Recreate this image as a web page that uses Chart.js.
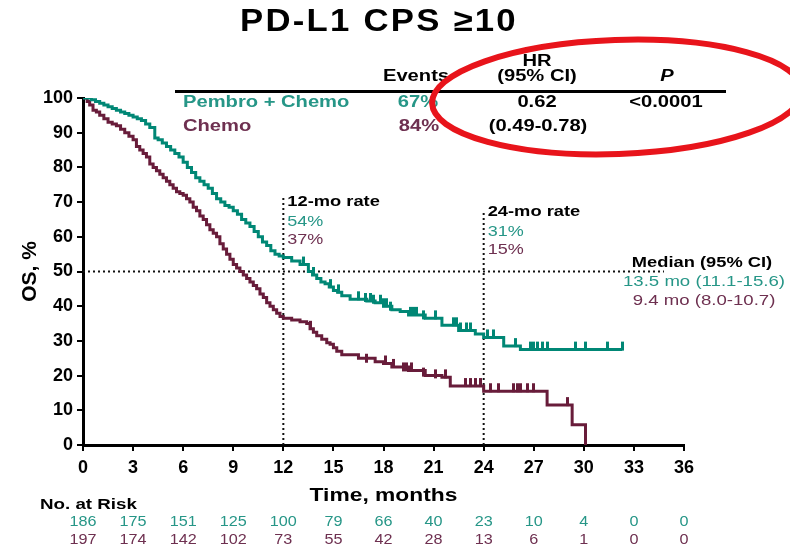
<!DOCTYPE html>
<html>
<head>
<meta charset="utf-8">
<script src="https://cdn.jsdelivr.net/npm/chart.js@4.4.0/dist/chart.umd.min.js"></script>
<style>
  html, body { margin: 0; padding: 0; background: #fff; }
  #wrap { width: 790px; height: 549px; position: relative; }
</style>
</head>
<body>
<div id="wrap"><canvas id="osChart"></canvas></div>
<script>
    // Kaplan-Meier steps (months, OS %)
    const pembroTime = [0, 0.25, 0.5, 0.75, 1.0, 1.25, 1.5, 1.75, 2.0, 2.25, 2.5, 2.75, 3.0, 3.25, 3.5, 3.75, 4.0, 4.3, 4.5, 4.75, 5.0, 5.25, 5.5, 5.75, 6.0, 6.25, 6.5, 6.75, 7.0, 7.25, 7.5, 7.75, 8.0, 8.25, 8.5, 8.75, 9.0, 9.25, 9.5, 9.75, 10.0, 10.25, 10.5, 10.75, 11.0, 11.25, 11.5, 11.75, 12.0, 12.5, 13.0, 13.5, 13.75, 14.0, 14.25, 14.5, 14.75, 15.0, 15.25, 15.5, 16.0, 17.0, 17.5, 18.0, 18.5, 19.0, 19.5, 20.5, 21.5, 22.5, 23.5, 24.0, 25.2, 26.2, 32.3];
    const pembroOS = [100, 100, 99.5, 99, 98.5, 98, 97.5, 97, 96.5, 96, 95.5, 95, 94.5, 94, 93.5, 92.5, 91.5, 88.5, 88, 87, 86, 85, 84, 83, 81.5, 80, 78.5, 77, 76, 75, 74, 72.5, 71, 70, 69, 68.5, 67.5, 66.5, 65, 64, 63, 61.5, 60, 58.5, 57.5, 56, 55, 54.5, 54, 53, 52, 50, 49, 48, 47, 46.5, 45.5, 44.5, 44, 43, 42, 41.5, 41, 40, 39, 38.5, 37.5, 36.5, 34.5, 33, 32, 31, 28.5, 27.5, 27.5];

    const chemoTime = [0, 0.25, 0.4, 0.6, 0.8, 1.0, 1.25, 1.5, 1.75, 2.0, 2.25, 2.5, 2.75, 3.0, 3.2, 3.4, 3.6, 3.8, 4.0, 4.2, 4.4, 4.6, 4.8, 5.0, 5.2, 5.4, 5.6, 5.8, 6.0, 6.2, 6.4, 6.6, 6.8, 7.0, 7.2, 7.4, 7.6, 7.8, 8.0, 8.2, 8.4, 8.6, 8.8, 9.0, 9.2, 9.4, 9.6, 9.8, 10.0, 10.2, 10.4, 10.6, 10.8, 11.0, 11.2, 11.4, 11.6, 11.8, 12.0, 12.5, 13.0, 13.4, 13.6, 13.8, 14.0, 14.3, 14.6, 14.8, 15.0, 15.2, 15.5, 16.5, 17.5, 18.0, 18.5, 19.5, 20.5, 21.5, 22.0, 24.0, 27.8, 29.3, 30.1];
    const chemoOS = [100, 99, 98, 96.5, 96, 95, 94, 93, 92.5, 92, 91, 90, 89, 88, 86, 85, 84, 83, 81, 80, 79, 78, 77, 76, 75, 74, 73, 72.5, 72, 71, 70, 68.5, 67.5, 66, 65, 63.5, 62, 61, 60, 58, 56.5, 55, 53.5, 52, 51, 50, 49, 48, 47, 46, 45, 43.5, 42.5, 41, 40, 39, 38, 37, 36.5, 36, 35.5, 35, 33.5, 32.5, 31.5, 30.5, 29.5, 29, 28, 27, 26, 25, 24, 23.5, 22.5, 21.5, 20, 19.5, 17, 15.5, 11.5, 5.8, 0];

    // censored observations
    const pembroCensorTime = [13.2, 13.8, 14.8, 15.3, 16.5, 16.9, 17.2, 17.4, 17.8, 18.0, 18.2, 18.4, 19.6, 19.8, 20.0, 20.4, 21.1, 22.2, 22.4, 22.6, 23.0, 23.2, 24.2, 24.6, 25.9, 26.8, 27.0, 27.2, 27.5, 27.8, 29.5, 30.1, 31.4, 32.3];
    const pembroCensorOS = [52, 49, 45.5, 44, 42, 41.5, 41.5, 41, 41, 40, 40, 39, 37.5, 37.5, 37.5, 36.5, 36.5, 34.5, 34.5, 33, 33, 33, 31, 31, 28.5, 27.5, 27.5, 27.5, 27.5, 27.5, 27.5, 27.5, 27.5, 27.5];
    const chemoCensorTime = [13.6, 17.0, 18.1, 18.6, 19.2, 19.4, 19.7, 20.4, 21.1, 21.7, 22.9, 23.2, 23.5, 23.8, 24.4, 24.9, 25.8, 26.0, 26.2, 26.6, 27.0, 29.0];
    const chemoCensorOS = [33.5, 24, 23.5, 22.5, 21.5, 21.5, 21.5, 20, 19.5, 19.5, 17, 17, 17, 17, 15.5, 15.5, 15.5, 15.5, 15.5, 15.5, 15.5, 11.5];

    // number at risk table
    const timeTicks = [0, 3, 6, 9, 12, 15, 18, 21, 24, 27, 30, 33, 36];
    const pembroRisk = [186, 175, 151, 125, 100, 79, 66, 40, 23, 10, 4, 0, 0];
    const chemoRisk = [197, 174, 142, 102, 73, 55, 42, 28, 13, 6, 1, 0, 0];

    const TEAL = "rgb(0, 135, 117)";
    const TEAL_TXT = "rgb(38, 150, 135)";
    const MAROON = "rgb(104, 28, 58)";
    const MAROON_TXT = "rgb(110, 48, 80)";
    const FONT = "'Liberation Sans', Arial, sans-serif";

    function toPoints(xs, ys) {
        return xs.map((x, i) => ({ x: x, y: ys[i] }));
    }

    // small upward tick used as censor mark
    function censorMark(color) {
        const c = document.createElement("canvas");
        c.width = 3;
        c.height = 18;
        const g = c.getContext("2d");
        g.fillStyle = color;
        g.fillRect(0, 1, 3, 9);
        return c;
    }

    // text drawn slightly stretched sideways, like the slide
    function stretchText(ctx, text, x, y, font, color, align, sx) {
        ctx.save();
        ctx.font = font;
        ctx.fillStyle = color;
        ctx.textAlign = align;
        ctx.textBaseline = "middle";
        ctx.translate(x, y);
        ctx.scale(sx, 1);
        ctx.fillText(text, 0, 0);
        ctx.restore();
    }

    const annotations = {
        id: "annotations",
        beforeDatasetsDraw(chart) {
            const { ctx, scales: { x, y } } = chart;
            ctx.save();
            ctx.strokeStyle = "#111";
            ctx.lineWidth = 2;
            ctx.setLineDash([2, 3]);
            // median line
            ctx.beginPath();
            ctx.moveTo(x.getPixelForValue(0), y.getPixelForValue(50));
            ctx.lineTo(x.getPixelForValue(34.8), y.getPixelForValue(50));
            ctx.stroke();
            // 12 and 24 month lines
            ctx.beginPath();
            ctx.moveTo(x.getPixelForValue(12), y.getPixelForValue(0));
            ctx.lineTo(x.getPixelForValue(12), y.getPixelForValue(71.5));
            ctx.moveTo(x.getPixelForValue(24), y.getPixelForValue(0));
            ctx.lineTo(x.getPixelForValue(24), y.getPixelForValue(67.5));
            ctx.stroke();
            ctx.restore();
        },
        afterDraw(chart) {
            const { ctx, scales: { x, y } } = chart;
            const B16 = "bold 16px " + FONT;
            const S = 1.26;

            // title
            ctx.save();
            ctx.letterSpacing = "2px";
            stretchText(ctx, "PD-L1 CPS \u226510", 379, 22, "bold 31px " + FONT, "#000", "center", 1.12);
            ctx.restore();

            // header table
            ctx.fillStyle = "#000";
            ctx.fillRect(175, 90, 551, 3);
            stretchText(ctx, "Events", 416, 77, B16, "#000", "center", S);
            stretchText(ctx, "HR", 537, 62, B16, "#000", "center", S);
            stretchText(ctx, "(95% CI)", 537, 77, B16, "#000", "center", S);
            stretchText(ctx, "P", 667, 77, "italic bold 16px " + FONT, "#000", "center", S);
            stretchText(ctx, "0.62", 537, 103, B16, "#000", "center", S);
            stretchText(ctx, "(0.49-0.78)", 538, 127, B16, "#000", "center", S);
            stretchText(ctx, "<0.0001", 666, 103, B16, "#000", "center", S);
            stretchText(ctx, "67%", 418, 103, B16, TEAL_TXT, "center", S);
            stretchText(ctx, "84%", 419, 127, B16, MAROON_TXT, "center", S);
            stretchText(ctx, "Pembro + Chemo", 183, 103, B16, TEAL_TXT, "left", S);
            stretchText(ctx, "Chemo", 183, 127, B16, MAROON_TXT, "left", S);

            // 12-mo / 24-mo rates
            const x12 = x.getPixelForValue(12) + 4;
            const x24 = x.getPixelForValue(24) + 4;
            const B15 = "bold 15px " + FONT;
            const R15 = "15px " + FONT;
            stretchText(ctx, "12-mo rate", x12, 202, B15, "#000", "left", 1.22);
            stretchText(ctx, "54%", x12, 222, R15, TEAL_TXT, "left", 1.2);
            stretchText(ctx, "37%", x12, 240, R15, MAROON_TXT, "left", 1.2);
            stretchText(ctx, "24-mo rate", x24, 212, B15, "#000", "left", 1.22);
            stretchText(ctx, "31%", x24, 232, R15, TEAL_TXT, "left", 1.2);
            stretchText(ctx, "15%", x24, 250, R15, MAROON_TXT, "left", 1.2);

            // median block
            stretchText(ctx, "Median (95% CI)", 702, 263, B15, "#000", "center", 1.22);
            stretchText(ctx, "13.5 mo (11.1-15.6)", 704, 282, R15, TEAL_TXT, "center", 1.24);
            stretchText(ctx, "9.4 mo (8.0-10.7)", 704, 301, R15, MAROON_TXT, "center", 1.24);

            // axis titles
            stretchText(ctx, "Time, months", (x.left + x.right) / 2, 496, "bold 19px " + FONT, "#000", "center", 1.2);
            ctx.save();
            ctx.translate(30, (y.top + y.bottom) / 2);
            ctx.rotate(-Math.PI / 2);
            ctx.font = "bold 21px " + FONT;
            ctx.fillStyle = "#000";
            ctx.textAlign = "center";
            ctx.textBaseline = "middle";
            ctx.fillText("OS, %", 0, 0);
            ctx.restore();

            // number at risk
            stretchText(ctx, "No. at Risk", 40, 505, "bold 15px " + FONT, "#000", "left", 1.25);
            timeTicks.forEach((t, i) => {
                const px = x.getPixelForValue(t);
                stretchText(ctx, String(pembroRisk[i]), px, 522, "15px " + FONT, TEAL_TXT, "center", 1.08);
                stretchText(ctx, String(chemoRisk[i]), px, 540, "15px " + FONT, MAROON_TXT, "center", 1.08);
            });

            // red highlight ellipse
            ctx.save();
            ctx.strokeStyle = "rgb(232, 20, 27)";
            ctx.lineWidth = 6;
            ctx.beginPath();
            ctx.ellipse(617, 97, 185, 57, -0.035, 0, Math.PI * 2);
            ctx.stroke();
            ctx.restore();
        }
    };

    const osChart = new Chart(document.getElementById("osChart"), {
        type: "line",
        data: {
            datasets: [
                {
                    data: toPoints(pembroTime, pembroOS),
                    borderColor: TEAL,
                    borderWidth: 3,
                    stepped: true,
                    pointRadius: 0,
                },
                {
                    data: toPoints(chemoTime, chemoOS),
                    borderColor: MAROON,
                    borderWidth: 3,
                    stepped: true,
                    pointRadius: 0,
                },
                {
                    data: toPoints(pembroCensorTime, pembroCensorOS),
                    showLine: false,
                    pointStyle: censorMark(TEAL),
                    pointRadius: 9,
                },
                {
                    data: toPoints(chemoCensorTime, chemoCensorOS),
                    showLine: false,
                    pointStyle: censorMark(MAROON),
                    pointRadius: 9,
                },
            ],
        },
        options: {
            responsive: true,
            maintainAspectRatio: false,
            animation: false,
            layout: {
                padding: { left: 0, right: 106, top: 98, bottom: 0 },
            },
            plugins: {
                legend: { display: false },
                title: { display: false },
                tooltip: { enabled: false },
            },
            scales: {
                x: {
                    type: "linear",
                    min: 0,
                    max: 36,
                    afterFit: (s) => { s.height = 104; },
                    afterBuildTicks: (s) => { s.ticks = timeTicks.map((v) => ({ value: v })); },
                    border: { color: "#000", width: 3 },
                    grid: { drawOnChartArea: false, drawTicks: true, tickLength: 6, color: "#000", lineWidth: 2 },
                    ticks: {
                        color: "#000",
                        padding: 6,
                        maxRotation: 0,
                        font: { family: FONT, size: 18, weight: "bold" },
                    },
                },
                y: {
                    min: 0,
                    max: 100,
                    afterFit: (s) => { s.width = 83; },
                    border: { color: "#000", width: 3 },
                    grid: { drawOnChartArea: false, drawTicks: true, tickLength: 6, color: "#000", lineWidth: 2 },
                    ticks: {
                        stepSize: 10,
                        color: "#000",
                        padding: 4,
                        font: { family: FONT, size: 18, weight: "bold" },
                    },
                },
            },
        },
        plugins: [annotations],
    });
</script>
</body>
</html>
